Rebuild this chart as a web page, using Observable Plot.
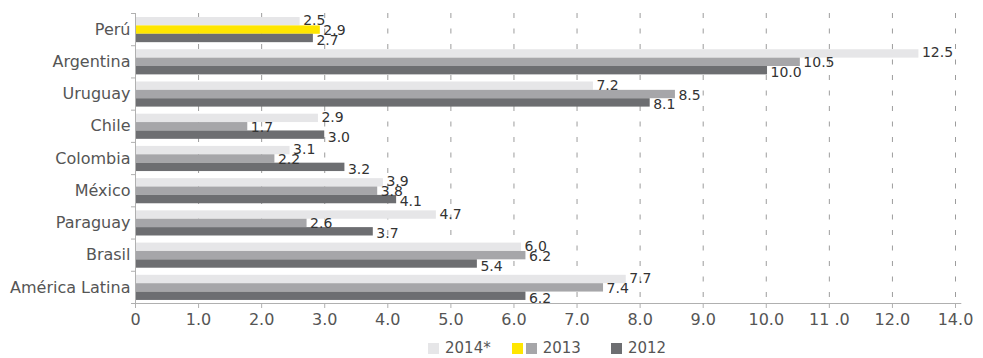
<!DOCTYPE html>
<html>
<head>
<meta charset="utf-8">
<script src="https://cdn.jsdelivr.net/npm/d3@7"></script>
<script src="https://cdn.jsdelivr.net/npm/@observablehq/plot@0.6"></script>
<style>
  body { margin: 0; background: #fff; font-family: "DejaVu Sans", sans-serif; }
  #wrap { position: relative; width: 983px; height: 358px; overflow: hidden; }
  #legend { position: absolute; left: 428px; top: 342px; height: 13px; display: flex; align-items: center; font-size: 15px; color: #555; }
  .item { display: flex; align-items: center; height: 13px; }
  .sw { display: inline-block; width: 11px; height: 11px; margin-right: 3px; }
  .lt { display: inline-block; margin-left: 3px; line-height: 13px; height: 13px; }
</style>
</head>
<body>
<div id="wrap">
  <div id="chart"></div>
  <div id="legend"></div>
</div>
<script>
// ---- Data ----
const categories = ["Perú", "Argentina", "Uruguay", "Chile", "Colombia", "México", "Paraguay", "Brasil", "América Latina"];
const series = ["2014*", "2013", "2012"];
// bar lengths as drawn
const bars2014 = [2.61, 12.42, 7.26, 2.90, 2.45, 3.93, 4.77, 6.12, 7.78];
const bars2013 = [2.93, 10.54, 8.56, 1.78, 2.21, 3.84, 2.72, 6.19, 7.42];
const bars2012 = [2.82, 10.02, 8.16, 3.00, 3.32, 4.14, 3.77, 5.42, 6.19];
// value labels as printed
const labels2014 = ["2.5", "12.5", "7.2", "2.9", "3.1", "3.9", "4.7", "6.0", "7.7"];
const labels2013 = ["2.9", "10.5", "8.5", "1.7", "2.2", "3.8", "2.6", "6.2", "7.4"];
const labels2012 = ["2.7", "10.0", "8.1", "3.0", "3.2", "4.1", "3.7", "5.4", "6.2"];
// x axis ticks
const xTickValues = [0, 1, 2, 3, 4, 5, 6, 7, 8, 9, 10, 11, 12, 13];
const xTickLabels = ["0", "1.0", "2.0", "3.0", "4.0", "5.0", "6.0", "7.0", "8.0", "9.0", "10.0", "11 .0", "12.0", "14.0"];

const highlight = "Perú";
const colors = { "2014*": "#e6e6e8", "2013": "#a6a6a9", "2012": "#6d6e71" };
const highlightColor = "#ffe600";

// ---- Build table ----
const barValues = [bars2014, bars2013, bars2012];
const labelValues = [labels2014, labels2013, labels2012];
const padTop = 0.125, barFrac = 0.26;
const rows = [];
categories.forEach((cat, i) => {
  series.forEach((s, j) => {
    const y1 = i + padTop + j * barFrac;
    rows.push({
      cat, s, j,
      value: barValues[j][i],
      label: labelValues[j][i],
      y1, y2: y1 + barFrac, ym: y1 + barFrac / 2,
      fill: (cat === highlight && s === "2013") ? highlightColor : colors[s]
    });
  });
});

const n = categories.length;
const boundaries = d3.range(0, n + 1);
const centers = categories.map((c, i) => i + 0.5);
const labelDy = [-1, 0.5, 2];

const plot = Plot.plot({
  width: 983,
  height: 340,
  marginLeft: 135,
  marginRight: 28,
  marginTop: 13,
  marginBottom: 37,
  style: { fontFamily: "DejaVu Sans, sans-serif", background: "#fff" },
  x: { domain: [0, 13] },
  y: { domain: [0, n], reverse: true },
  marks: [
    Plot.ruleX(xTickValues.slice(1), { y1: 0, y2: n, stroke: "#9c9c9c", strokeDasharray: "5,10.5" }),
    Plot.rect(rows, { x1: 0, x2: "value", y1: "y1", y2: "y2", fill: "fill" }),
    Plot.ruleX([0], { y1: 0, y2: n, stroke: "#b0b0b0" }),
    Plot.ruleY([n], { x1: -0.063, x2: 13.1, stroke: "#b0b0b0" }),
    Plot.axisY(boundaries, { tickSize: 4, tickFormat: () => "", stroke: "#b0b0b0", label: null }),
    Plot.axisY(centers, { tickSize: 0, tickPadding: 5, tickFormat: d => categories[Math.floor(d)], fontSize: 16, fill: "#555", label: null }),
    Plot.axisX(xTickValues, { tickSize: 5, tickPadding: 5, tickFormat: d => xTickLabels[xTickValues.indexOf(d)], fontSize: 16, stroke: "#b0b0b0", fill: "#555", label: null }),
    ...series.map((s, j) => Plot.text(rows.filter(r => r.j === j), {
      x: "value", y: "ym", text: "label", textAnchor: "start", dx: 3, dy: labelDy[j],
      fontSize: 14, fill: "#333"
    }))
  ]
});
document.getElementById("chart").appendChild(plot);

// ---- Legend ----
const legendItems = [
  { label: series[0], swatches: [colors["2014*"]], gap: 21 },
  { label: series[1], swatches: [highlightColor, colors["2013"]], gap: 30 },
  { label: series[2], swatches: [colors["2012"]], gap: 0 }
];
const legend = document.getElementById("legend");
legendItems.forEach(it => {
  const item = document.createElement("div");
  item.className = "item";
  item.style.marginRight = it.gap + "px";
  it.swatches.forEach(c => {
    const sw = document.createElement("span");
    sw.className = "sw";
    sw.style.background = c;
    item.appendChild(sw);
  });
  const t = document.createElement("span");
  t.className = "lt";
  t.textContent = it.label;
  item.appendChild(t);
  legend.appendChild(item);
});
</script>
</body>
</html>
